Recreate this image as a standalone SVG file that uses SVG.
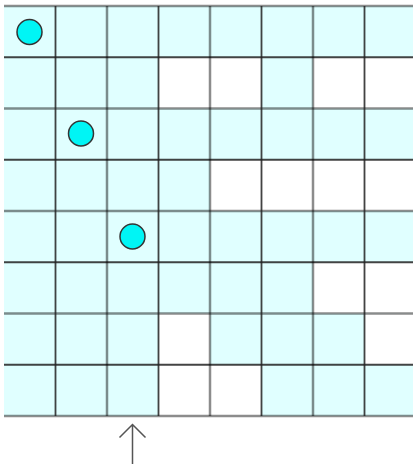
<svg xmlns="http://www.w3.org/2000/svg" width="413" height="464" viewBox="0 0 413 464">
<style>
.c{fill:#e0ffff}
.w{fill:#ffffff}
.gl{stroke:#000;stroke-opacity:0.45;stroke-width:2.5}
.dl{stroke:#222;stroke-opacity:0.85;stroke-width:1.8}
.tok{fill:#00f5f5;stroke:#333;stroke-width:1.5}
.arr{fill:none;stroke:#555;stroke-width:1.5}
</style>
<rect width="413" height="464" fill="#fff"/>
<g id="cells">
<rect class="c" x="4" y="6" width="412" height="410"/>
<!-- row 1 -->
<rect class="w" x="158.5" y="57.25" width="103" height="51.25"/>
<rect class="w" x="313" y="57.25" width="103" height="51.25"/>
<!-- row 3 -->
<rect class="w" x="210" y="159.75" width="206" height="51.25"/>
<!-- row 5 -->
<rect class="w" x="313" y="262.25" width="103" height="51.25"/>
<!-- row 6 -->
<rect class="w" x="158.5" y="313.5" width="51.5" height="51.25"/>
<rect class="w" x="364.5" y="313.5" width="51.5" height="51.25"/>
<!-- row 7 -->
<rect class="w" x="158.5" y="364.75" width="103" height="51.25"/>
</g>
<g id="grid">
<line class="gl" x1="4" y1="6" x2="416" y2="6"/>
<line class="dl" x1="4" y1="57.25" x2="416" y2="57.25"/>
<line class="gl" x1="4" y1="108.5" x2="416" y2="108.5"/>
<line class="dl" x1="4" y1="159.75" x2="416" y2="159.75"/>
<line class="gl" x1="4" y1="211" x2="416" y2="211"/>
<line class="dl" x1="4" y1="262.25" x2="416" y2="262.25"/>
<line class="gl" x1="4" y1="313.5" x2="416" y2="313.5"/>
<line class="dl" x1="4" y1="364.75" x2="416" y2="364.75"/>
<line class="gl" x1="4" y1="416" x2="416" y2="416"/>
<line class="dl" x1="55.5" y1="6" x2="55.5" y2="416"/>
<line class="gl" x1="107" y1="6" x2="107" y2="416"/>
<line class="dl" x1="158.5" y1="6" x2="158.5" y2="416"/>
<line class="gl" x1="210" y1="6" x2="210" y2="416"/>
<line class="dl" x1="261.5" y1="6" x2="261.5" y2="416"/>
<line class="gl" x1="313" y1="6" x2="313" y2="416"/>
<line class="dl" x1="364.5" y1="6" x2="364.5" y2="416"/>
</g>
<g id="token1"><circle class="tok" cx="29.5" cy="32" r="12.5"/></g>
<g id="token2"><circle class="tok" cx="81" cy="133.5" r="12.5"/></g>
<g id="token3"><circle class="tok" cx="132.5" cy="236.5" r="12.5"/></g>
<g id="connectors">
<path class="arr" d="M132.5 464V424.5M119.5 437.5L132.5 424.5L145.5 437.5"/>
</g>
</svg>
